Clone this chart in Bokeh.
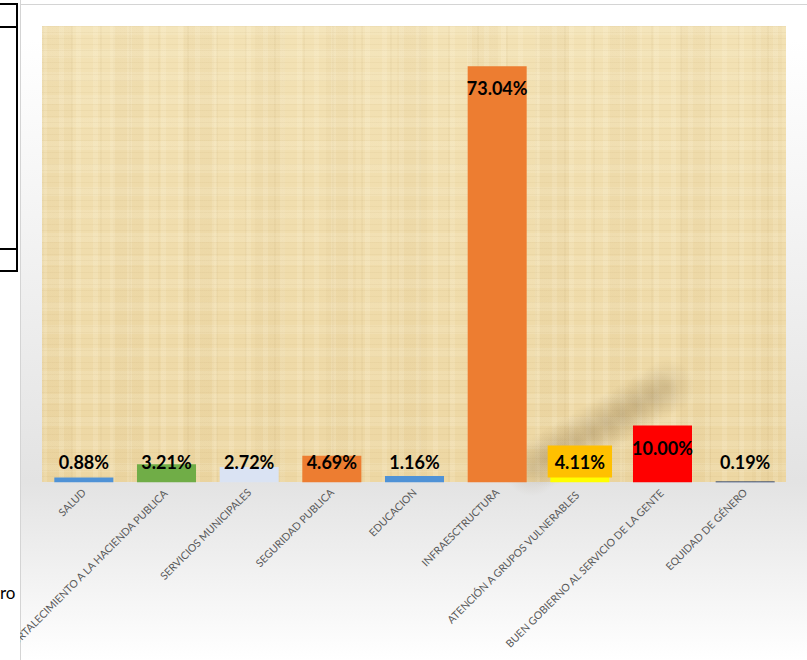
import math
from bokeh.plotting import figure
from bokeh.models import ColumnDataSource, Range1d, FactorRange, Div
from bokeh.layouts import row
from bokeh.core.properties import value
from bokeh.embed import file_html
from bokeh.resources import INLINE

# ---------------- data ----------------
categories = [
    "SALUD",
    "FORTALECIMIENTO A LA HACIENDA PUBLICA",
    "SERVICIOS MUNICIPALES",
    "SEGURIDAD PUBLICA",
    "EDUCACION",
    "INFRAESCTRUCTURA",
    "ATENCIÓN  A GRUPOS VULNERABLES",
    "BUEN GOBIERNO AL SERVICIO DE LA GENTE",
    "EQUIDAD DE GÉNERO",
]
percentages = [0.88, 3.21, 2.72, 4.69, 1.16, 73.04, 4.11, 10.00, 0.19]
bar_colors = ["#4f92d6", "#70ad47", "#dae3f3", "#ed7d31", "#4f92d6",
              "#ed7d31", "#ffff00", "#ff0000", "#002060"]
label_inside_end = [False, False, False, False, False, True, False, True, False]
label_box_colors = ["#ffc000" if c == "ATENCIÓN  A GRUPOS VULNERABLES" else "#ffffff"
                    for c in categories]
label_texts = ["%.2f%%" % v for v in percentages]
side_text = "ro"

# ---------------- sources ----------------
bars = ColumnDataSource(dict(cat=categories, val=percentages, color=bar_colors))
labels = ColumnDataSource(dict(
    cat=categories,
    y=[v if inside else 0 for v, inside in zip(percentages, label_inside_end)],
    dy=[22 if inside else -21 for inside in label_inside_end],
    txt=label_texts,
    bg=label_box_colors,
    bga=[1.0 if c != "#ffffff" else 0.0 for c in label_box_colors],
))

# ---------------- main chart ----------------
W, H = 787, 660
FL, FT, FW, FH = 22, 26, 744, 456   # frame placement inside the figure (px)
frame_layer = "%dpx %dpx / %dpx %dpx no-repeat" % (FL, FT, FW, FH)

# soft diagonal shadow (decoration of the picture background)
shadow_layers = []
for k in range(10):
    cx = 512 + 15 * k
    cy = 468 - 9 * k
    shadow_layers.append(
        "radial-gradient(circle 28px at %dpx %dpx, rgba(105,80,40,0.17), rgba(105,80,40,0)) 0 0 / 100%% 100%% no-repeat"
        % (cx, cy))

bg_css = ", ".join([
    # left and top chart-area border
    "linear-gradient(to right, #d4d4d4 0px, #d4d4d4 1px, transparent 1px) 0 0 / 100% 100% no-repeat",
    "linear-gradient(to bottom, transparent 4px, #d4d4d4 4px, #d4d4d4 5px, transparent 5px) 0 0 / 100% 100% no-repeat",
] + shadow_layers + [
    # papyrus-like texture inside the plot area
    "repeating-linear-gradient(to bottom, rgba(170,140,80,0.07) 0px, rgba(170,140,80,0.07) 1px, transparent 1px, transparent 6px) " + frame_layer,
    "repeating-linear-gradient(to bottom, rgba(255,250,230,0.12) 0px, rgba(255,250,230,0.12) 9px, transparent 9px, transparent 23px) " + frame_layer,
    "repeating-linear-gradient(to right, rgba(255,248,225,0.16) 0px, rgba(255,248,225,0.16) 5px, transparent 5px, transparent 17px) " + frame_layer,
    "repeating-linear-gradient(to right, rgba(175,145,85,0.07) 0px, rgba(175,145,85,0.07) 2px, transparent 2px, transparent 29px) " + frame_layer,
    "repeating-linear-gradient(to right, rgba(190,155,90,0.06) 0px, rgba(190,155,90,0.06) 30px, transparent 30px, transparent 71px) " + frame_layer,
    "linear-gradient(to bottom, #f3e2b5, #edd7a3) " + frame_layer,
    # chart-area gradient
    "linear-gradient(to bottom, #ffffff 0px, #ffffff 40px, #e3e3e3 482px, #ffffff 660px)",
])
p = figure(width=W, height=H, x_range=FactorRange(*categories), y_range=Range1d(0, 80),
           output_backend="svg", toolbar_location=None,
           min_border_left=FL, min_border_right=W - FL - FW, min_border_top=FT,
           min_border_bottom=H - FT - FH,
           styles={"background": bg_css})
p.border_fill_color = None
p.background_fill_color = None
p.outline_line_color = None
p.xgrid.grid_line_color = None
p.ygrid.grid_line_color = None
p.yaxis.visible = False

p.vbar(x="cat", top="val", width=0.714, source=bars, fill_color="color", line_color=None)

p.text(x="cat", y="y", text="txt", source=labels, y_offset="dy",
       text_align="center", text_baseline="middle",
       text_font=value("Lato"), text_font_style="bold", text_font_size="18px",
       text_color="#000000",
       background_fill_color="bg", background_fill_alpha="bga",
       padding=dict(left=7, right=7, top=5, bottom=5))

ax = p.xaxis[0]
ax.axis_line_color = None
ax.major_tick_line_color = None
ax.minor_tick_line_color = None
ax.major_label_orientation = math.pi / 4
ax.major_label_standoff = 2
ax.major_label_text_font = "Lato"
ax.major_label_text_font_size = "10.5px"
ax.major_label_text_color = "#595959"

# ---------------- left strip (sheet cell borders behind the chart) ----------------
def hline(top):
    return ('<div style="position:absolute;left:0;top:%dpx;width:18px;height:2px;'
            'background:#000"></div>' % top)

strip_html = (
    '<div style="position:relative;width:20px;height:660px;overflow:hidden;background:#fff">'
    '<div style="position:absolute;left:16px;top:3px;width:2px;height:269px;background:#000"></div>'
    + hline(3) + hline(26) + hline(248) + hline(270) +
    '<div style="position:absolute;left:0;top:582px;font-family:Lato;font-size:17px;'
    'line-height:22px;color:#000;white-space:nowrap">' + side_text + '</div>'
    '</div>'
)
strip = Div(text=strip_html, width=20, height=H, margin=0)

layout = row(strip, p)
open("out.html", "w").write(file_html(layout, INLINE))
